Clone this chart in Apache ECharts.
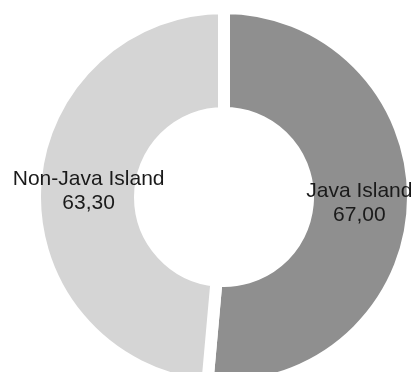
<!DOCTYPE html>
<html>
<head>
<meta charset="utf-8">
<script src="https://cdn.jsdelivr.net/npm/echarts@6/dist/echarts.min.js"></script>
<style>
  html, body { margin: 0; padding: 0; background: #ffffff; }
  #chart { width: 411px; height: 372px; }
</style>
</head>
<body>
<div id="chart"></div>
<script>
// Island groups and their values
const regions = ['Java Island', 'Non-Java Island'];
const values = [67.00, 63.30];
const sliceColors = ['#8f8f8f', '#d5d5d5'];

const chart = echarts.init(document.getElementById('chart'), null, { renderer: 'canvas' });

const pieData = regions.map((name, i) => ({
  name: name,
  value: values[i],
  itemStyle: { color: sliceColors[i] }
}));

// Values are shown with a decimal comma
function formatValue(v) {
  return v.toFixed(2).replace('.', ',');
}

const pieCenter = [224, 197];

chart.setOption({
  animation: false,
  backgroundColor: '#ffffff',
  series: [{
    type: 'pie',
    center: pieCenter,
    radius: [84, 189],
    startAngle: 90,
    clockwise: true,
    silent: true,
    avoidLabelOverlap: false,
    // white outline gives an even-width gap between the slices
    itemStyle: {
      borderColor: '#ffffff',
      borderWidth: 12
    },
    label: {
      show: true,
      position: 'inside',
      formatter: p => p.name + '\n' + formatValue(p.value),
      fontFamily: 'Liberation Sans, Arial, sans-serif',
      fontSize: 21,
      lineHeight: 24,
      color: '#1a1a1a',
      align: 'center'
    },
    // nudge each label a little toward the hole
    labelLayout: function (params) {
      const midX = params.labelRect.x + params.labelRect.width / 2;
      return { dx: midX < pieCenter[0] ? 4 : -4 };
    },
    labelLine: { show: false },
    data: pieData
  }]
});
</script>
</body>
</html>
